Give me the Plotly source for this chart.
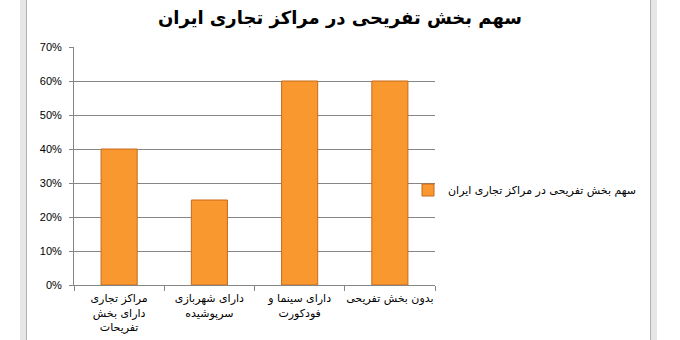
import plotly.graph_objects as go

categories = [
    "مراکز تجاری<br>دارای بخش<br>تفریحات",
    "دارای شهربازی<br>سرپوشیده",
    "دارای سینما و<br>فودکورت",
    "بدون بخش تفریحی",
]
values = [0.40, 0.25, 0.60, 0.60]
series_name = "سهم بخش تفریحی در مراکز تجاری ایران"
title_text = "سهم بخش تفریحی در مراکز تجاری ایران"
y_ticks = [0, 0.1, 0.2, 0.3, 0.4, 0.5, 0.6, 0.7]

# plot area in pixels
L, R, T, B = 74, 435, 47, 285
W, H = 680, 340
pw, ph = R - L, B - T

def px_x(x):
    return (x - L) / pw

def px_y(y):
    return (B - y) / ph

fig = go.Figure()
fig.add_trace(go.Bar(
    x=categories, y=values, name=series_name,
    marker=dict(color="#F9982F", line=dict(color="#C8691C", width=1)),
    showlegend=True,
))

shapes = []
# window frame bands (left and right)
for x0, x1, edge in [(20, 27, 26.5), (650, 657, 650.5)]:
    shapes.append(dict(type="rect", xref="paper", yref="paper",
                       x0=px_x(x0), x1=px_x(x1), y0=px_y(H + 5), y1=px_y(-5),
                       fillcolor="#E6E6E6", line=dict(width=0), layer="below"))
    shapes.append(dict(type="line", xref="paper", yref="paper",
                       x0=px_x(edge), x1=px_x(edge), y0=px_y(H + 5), y1=px_y(-5),
                       line=dict(color="#B0B0B0", width=1), layer="below"))

fig.update_layout(
    width=W, height=H,
    margin=dict(l=L, r=W - R, t=T, b=H - B, pad=0, autoexpand=False),
    paper_bgcolor="white", plot_bgcolor="white",
    title=dict(text=title_text, x=0.5, xref="container", xanchor="center",
               y=1 - 18 / H, yref="container", yanchor="middle",
               font=dict(family="DejaVu Sans", size=18, color="black", weight="bold")),
    bargap=0.6,
    xaxis=dict(showline=True, linecolor="#868686", linewidth=1,
               ticks="outside", ticklen=5, tickcolor="#868686", tickson="boundaries",
               tickangle=0, automargin=False, ticklabelstandoff=3,
               tickfont=dict(family="DejaVu Sans", size=11, color="black"),
               showgrid=False),
    yaxis=dict(range=[0, 0.7], tickvals=y_ticks, tickformat=".0%",
               showline=True, linecolor="#868686", linewidth=1,
               ticks="outside", ticklen=4, tickcolor="#868686",
               showgrid=True, gridcolor="#868686", gridwidth=1,
               zeroline=False, automargin=False, ticklabelstandoff=5,
               tickfont=dict(family="Liberation Sans", size=11, color="black")),
    legend=dict(x=px_x(408), y=px_y(190), xanchor="left", yanchor="middle",
                bgcolor="rgba(0,0,0,0)",
                font=dict(family="DejaVu Sans", size=11, color="black")),
    shapes=shapes,
)

fig.write_html("out.html")
